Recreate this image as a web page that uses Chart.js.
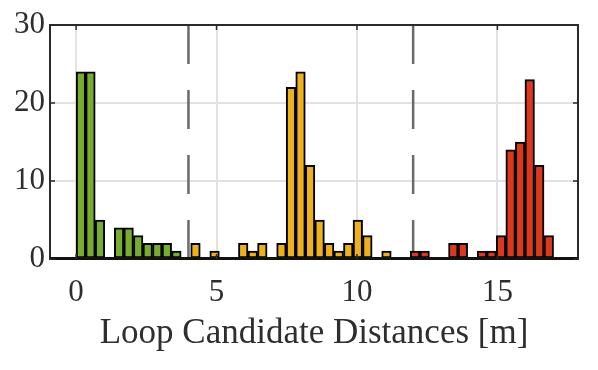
<!DOCTYPE html>
<html>
<head>
<meta charset="utf-8">
<script src="https://cdn.jsdelivr.net/npm/chart.js@4.4.1/dist/chart.umd.min.js"></script>
<style>
  html, body { margin: 0; padding: 0; background: #ffffff; }
  #wrap { width: 598px; height: 370px; }
</style>
</head>
<body>
<div id="wrap"><canvas id="histChart" width="598" height="370"></canvas></div>
<script>
// histogram data (bin width 0.34 m, bins start at 0 m)
const binWidth = 0.34;
const greenStartBin = 0;
const greenCounts = [24, 24, 5, 0, 4, 4, 3, 2, 2, 2, 1, 0];
const yellowStartBin = 12;
const yellowCounts = [2, 0, 1, 0, 0, 2, 1, 2, 0, 2, 22, 24, 12, 5, 2, 1, 2, 5, 3, 0, 1, 0, 0];
const redStartBin = 35;
const redCounts = [1, 1, 0, 0, 2, 2, 0, 1, 1, 3, 14, 15, 23, 12, 3];
// dashed separators between groups
const dividerPositions = [4, 12];
const xTicks = [0, 5, 10, 15];
const yTicks = [0, 10, 20, 30];

const toPoints = (startBin, counts) =>
  counts.map((c, i) => ({ x: (startBin + i + 0.5) * binWidth, y: c }));

const barStyle = (label, data, color) => ({
  type: 'bar',
  label: label,
  data: data,
  backgroundColor: color,
  borderColor: '#000000',
  borderWidth: 2,
  borderSkipped: false,
  barPercentage: 1,
  categoryPercentage: 1,
  grouped: false,
  order: 1
});

const dividerSets = dividerPositions.map(v => ({
  type: 'line',
  data: [{ x: v, y: 30 }, { x: v, y: 0 }],
  borderColor: '#6a6a6a',
  borderWidth: 2.5,
  borderDash: [39, 26],
  pointRadius: 0,
  order: 5
}));

// frame + inward tick marks (matlab look)
const boxPlugin = {
  id: 'boxPlugin',
  afterDatasetsDraw(chart) {
    const { ctx, chartArea: a, scales } = chart;
    ctx.save();
    ctx.strokeStyle = '#2a2a2a';
    ctx.lineWidth = 2;
    ctx.strokeRect(a.left, a.top, a.right - a.left, a.bottom - a.top);
    ctx.strokeStyle = '#111111';
    ctx.lineWidth = 3;
    ctx.beginPath();
    ctx.moveTo(a.left, a.bottom - 0.5); ctx.lineTo(a.right, a.bottom - 0.5);
    ctx.stroke();
    ctx.strokeStyle = '#2a2a2a';
    ctx.lineWidth = 1.5;
    ctx.beginPath();
    xTicks.forEach(t => {
      const px = scales.x.getPixelForValue(t);
      ctx.moveTo(px, a.top); ctx.lineTo(px, a.top + 5);
      ctx.moveTo(px, a.bottom); ctx.lineTo(px, a.bottom - 5);
    });
    yTicks.forEach(t => {
      const py = scales.y.getPixelForValue(t);
      ctx.moveTo(a.left, py); ctx.lineTo(a.left + 5, py);
      ctx.moveTo(a.right, py); ctx.lineTo(a.right - 5, py);
    });
    ctx.stroke();
    ctx.restore();
  }
};

const serif = 'Liberation Serif, Times New Roman, serif';

new Chart(document.getElementById('histChart'), {
  data: {
    datasets: [
      barStyle('green', toPoints(greenStartBin, greenCounts), '#77AC30'),
      barStyle('yellow', toPoints(yellowStartBin, yellowCounts), '#EDB120'),
      barStyle('red', toPoints(redStartBin, redCounts), '#DB381E'),
      ...dividerSets
    ]
  },
  options: {
    responsive: false,
    animation: false,
    layout: { padding: { top: 25, right: 20, left: 0, bottom: 0 } },
    scales: {
      x: {
        type: 'linear',
        offset: false,
        min: -0.93,
        max: 17.87,
        afterFit: s => { s.height = 111; },
        afterBuildTicks: s => { s.ticks = xTicks.map(v => ({ value: v })); },
        grid: { color: '#e2e2e2', lineWidth: 2, drawTicks: false, offset: false },
        border: { display: false },
        ticks: {
          includeBounds: false,
          padding: 15,
          color: '#2e2e2e',
          font: { family: serif, size: 31 }
        },
        title: {
          display: true,
          text: 'Loop Candidate Distances [m]',
          color: '#2e2e2e',
          font: { family: serif, size: 35 },
          padding: { top: 4, bottom: 15 }
        }
      },
      y: {
        min: 0,
        max: 30,
        afterFit: s => { s.width = 50; },
        afterBuildTicks: s => { s.ticks = yTicks.map(v => ({ value: v })); },
        grid: { color: '#e2e2e2', lineWidth: 2, drawTicks: false },
        border: { display: false },
        ticks: {
          padding: 5,
          color: '#2e2e2e',
          font: { family: serif, size: 31 }
        }
      }
    },
    plugins: {
      legend: { display: false },
      tooltip: { enabled: false }
    }
  },
  plugins: [boxPlugin]
});
</script>
</body>
</html>
